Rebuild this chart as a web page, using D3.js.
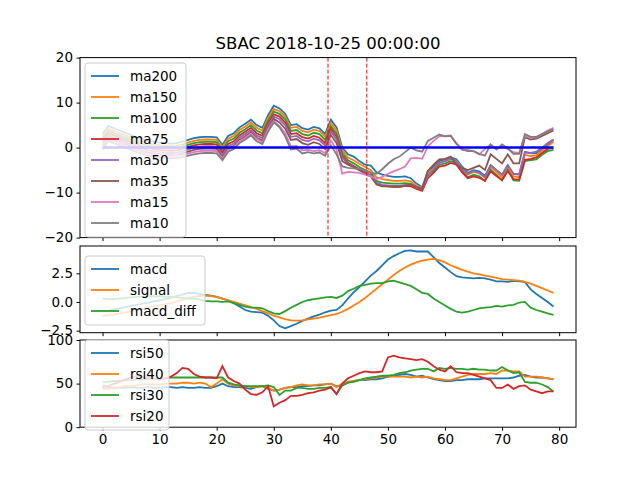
<!DOCTYPE html>
<html>
<head>
<meta charset="utf-8">
<script src="https://cdn.jsdelivr.net/npm/d3@7"></script>
<style>
  body { margin: 0; background: #fff; }
  text { font-family: "DejaVu Sans", sans-serif; }
</style>
</head>
<body>
<div id="chart"></div>
<script>
// Chart data
var title = "SBAC 2018-10-25 00:00:00";
var xTicks = [0, 10, 20, 30, 40, 50, 60, 70, 80];
var maTicks = [-20, -10, 0, 10, 20];
var macdTicks = [-2.5, 0, 2.5];
var rsiTicks = [0, 50, 100];
var markerLines = [39.5, 46.3];

var maNames = ["ma200", "ma150", "ma100", "ma75", "ma50", "ma35", "ma15", "ma10"];
var ma200 = [3,4.8,4.3,3.8,3.3,2.8,2.3,1.9,1.5,1.3, 1.1,1.0,0.9,1.0,1.3,1.7,2.1,2.3,2.4,2.4, 2.3,0.6,2.6,3.2,4.5,5.3,6.2,5.0,4.4,7.2, 9.3,8.7,7.5,5.0,5.2,4.3,4.0,4.6,4.3,3.0, 6.2,4.5,0.0,-1.5,-2.0,-3.0,-3.8,-4.0,-5.5,-6.0, -6.3,-6.5,-6.5,-6.4,-6.8,-8.0,-8.8,-5.2,-4.2,-3.0, -2.7,-2.2,-2.6,-4.2,-5.6,-5.0,-5.3,-6.3,-3.9,-5.0, -6.0,-3.9,-5.9,-6.0,-1.0,-1.3,-1.2,-0.3,0.6,1.7];
var ma150 = [2.5,4.2,3.7,3.2,2.7,2.2,1.7,1.3,0.9,0.7, 0.5,0.4,0.3,0.4,0.7,1.1,1.5,1.7,1.8,1.8, 1.7,0.0,2.0,2.6,3.9,4.7,5.6,4.4,3.8,6.6, 8.6,8.1,6.9,4.4,4.6,3.7,3.4,4.0,3.7,2.4, 5.5,3.8,-0.6,-2.2,-2.8,-3.6,-4.3,-5.0,-6.6,-7.0, -7.2,-7.4,-7.4,-7.3,-7.5,-8.5,-9.0,-5.6,-4.6,-3.3, -3.0,-2.5,-2.9,-4.6,-6.0,-5.4,-5.7,-6.7,-4.3,-5.4, -6.6,-4.3,-6.4,-6.6,-1.6,-1.9,-1.7,-0.7,0.3,1.3];
var ma100 = [2.0,3.7,3.2,2.7,2.2,1.7,1.2,0.8,0.4,0.2, 0.0,-0.1,-0.2,-0.1,0.2,0.6,1.0,1.2,1.3,1.3, 1.2,-0.6,1.4,2.0,3.3,4.1,5.0,3.8,3.2,6.0, 8.0,7.5,6.3,3.7,3.9,3.0,2.7,3.3,3.0,1.7, 4.8,3.1,-1.2,-2.8,-3.5,-4.3,-5.0,-5.6,-7.4,-7.8, -7.9,-8.0,-8.0,-7.9,-8.0,-8.8,-9.3,-6.2,-5.2,-3.8, -3.5,-3.0,-3.4,-5.1,-6.6,-6.0,-6.4,-7.4,-4.9,-6.0, -7.3,-4.9,-7.3,-7.4,-3.0,-2.8,-2.6,-1.6,-0.8,-0.5];
var ma75 = [1.5,3.2,2.7,2.2,1.7,1.2,0.7,0.3,-0.1,-0.3, -0.5,-0.6,-0.7,-0.6,-0.3,0.1,0.5,0.7,0.8,0.8, 0.7,-1.2,0.8,1.4,2.7,3.5,4.4,3.2,2.6,5.4, 7.4,6.9,5.6,3.0,3.2,2.3,2.0,2.6,2.2,1.0, 4.2,2.4,-1.8,-3.4,-4.1,-4.8,-5.5,-6.2,-8.0,-8.5, -8.6,-8.7,-8.7,-8.5,-8.6,-9.2,-9.6,-6.8,-5.6,-4.2, -4.0,-3.4,-3.8,-5.5,-6.8,-6.4,-6.7,-7.4,-5.3,-6.3, -7.2,-5.2,-7.0,-7.1,-2.7,-2.5,-2.2,-1.2,-0.3,0.0];
var ma50 = [1.0,2.7,2.2,1.7,1.2,0.7,0.2,-0.2,-0.6,-0.8, -1.0,-1.1,-1.2,-1.1,-0.8,-0.4,0.0,0.2,0.3,0.3, 0.2,-1.7,0.3,0.9,2.2,3.0,3.9,2.7,2.1,4.9, 6.9,6.3,5.0,2.4,2.6,1.7,1.4,2.0,1.6,0.4, 3.6,1.8,-2.2,-3.6,-4.3,-5.0,-5.6,-6.2,-7.8,-8.3, -8.4,-8.5,-8.5,-8.3,-8.2,-8.7,-9.2,-6.2,-4.7,-3.4, -3.0,-2.5,-3.0,-4.8,-5.8,-5.2,-5.6,-6.6,-3.9,-5.0, -6.0,-3.9,-5.8,-5.9,-1.0,-1.2,-0.9,0.0,1.0,1.8];
var ma35 = [0.5,2.2,1.7,1.2,0.7,0.2,-0.3,-0.7,-1.1,-1.3, -1.5,-1.6,-1.7,-1.6,-1.3,-0.9,-0.5,-0.3,-0.2,-0.2, -0.3,-2.2,-0.2,0.4,1.7,2.5,3.4,2.2,1.6,4.4, 6.4,5.6,4.2,1.7,1.9,1.0,0.6,1.2,0.8,-0.3, 2.8,1.0,-3.0,-3.8,-4.3,-5.0,-5.8,-6.4,-8.2,-8.6, -8.6,-8.7,-8.7,-8.5,-8.2,-8.8,-9.2,-5.2,-3.8,-2.6, -2.5,-2.0,-3.8,-4.5,-5.0,-4.5,-4.0,-5.0,-1.5,-2.5, -3.5,-1.5,-3.5,-3.5,2.3,1.8,2.0,2.6,3.2,3.8];
var ma15 = [0.3,2.0,1.5,1.0,0.5,0.0,-0.5,-0.9,-1.3,-1.5, -1.7,-1.8,-1.9,-1.8,-1.6,-1.3,-1.0,-0.8,-0.7,-0.7, -0.8,-2.4,-0.5,0.1,1.4,2.2,3.1,1.9,1.2,4.1, 5.9,4.8,3.2,0.3,0.4,-0.6,-0.5,-0.8,-0.6,-1.2, 1.6,-0.5,-5.8,-5.4,-5.5,-5.6,-6.0,-6.4,-7.0,-6.5, -5.8,-5.3,-4.8,-4.2,-2.4,-2.3,-2.5,0.3,1.5,2.5, 2.6,2.7,1.0,-0.5,-0.5,-0.8,-1.5,-0.3,0.7,-0.4, 0.3,-0.3,-1.0,-1.2,2.6,2.2,2.3,3.0,3.8,4.4];
var ma10 = [-0.5,1.5,1.0,0.5,0.0,-0.5,-1.0,-1.4,-1.8,-2.0, -2.2,-2.3,-2.4,-2.3,-2.1,-1.8,-1.5,-1.3,-1.2,-1.2, -1.3,-2.8,-0.9,-0.3,1.0,1.8,2.7,1.4,0.8,3.6, 5.6,4.5,2.5,-0.4,-0.2,-1.3,-1.0,-1.3,-1.1,-1.8, 0.5,-1.5,-4.2,-4.5,-4.6,-4.8,-5.0,-5.6,-5.8,-4.8, -3.6,-2.6,-2.0,-1.0,0.0,-0.6,-0.9,1.5,2.2,2.9, 2.5,2.6,0.8,-0.4,-0.8,-0.8,-1.4,-1.8,0.7,-0.4, 0.7,-0.2,-1.4,-1.4,3.0,2.4,2.4,3.0,3.6,4.1];

var macdNames = ["macd", "signal", "macd_diff"];
var macd = [-0.8,-0.75,-0.65,-0.55,-0.45,-0.35,-0.25,-0.15,-0.05,0.05, 0.15,0.25,0.35,0.5,0.65,0.78,0.8,0.7,0.62,0.55, 0.45,0.3,0.15,-0.1,-0.4,-0.7,-0.85,-0.88,-0.93,-1.2, -1.6,-2.1,-2.3,-2.1,-1.9,-1.65,-1.45,-1.25,-1.1,-0.9, -0.75,-0.7,-0.3,0.3,0.85,1.3,1.8,2.3,2.7,3.2, 3.7,4.0,4.25,4.45,4.5,4.4,4.4,4.4,3.9,3.4, 3.0,2.6,2.25,2.15,2.1,2.05,2.1,2.05,1.95,1.8, 1.8,1.75,1.85,1.8,1.75,1.1,0.7,0.35,0.0,-0.4];
var signal = [-1.2,-1.15,-1.1,-1.0,-0.9,-0.8,-0.7,-0.6,-0.5,-0.4, -0.3,-0.2,-0.1,0.05,0.2,0.35,0.45,0.52,0.55,0.52, 0.45,0.3,0.15,0.0,-0.15,-0.3,-0.45,-0.6,-0.8,-1.0, -1.2,-1.35,-1.5,-1.6,-1.63,-1.6,-1.52,-1.45,-1.36,-1.25, -1.15,-1.05,-0.85,-0.6,-0.3,0.0,0.35,0.75,1.15,1.55, 1.95,2.35,2.7,3.0,3.25,3.45,3.6,3.7,3.75,3.65, 3.45,3.2,3.0,2.8,2.64,2.5,2.4,2.3,2.2,2.1, 2.0,1.95,1.9,1.86,1.75,1.6,1.4,1.2,1.0,0.8];
var macdDiff = [0.3,0.25,0.25,0.3,0.35,0.4,0.45,0.45,0.5,0.5, 0.5,0.45,0.45,0.4,0.35,0.3,0.3,0.2,0.1,0.05, 0.05,0.0,0.05,-0.1,-0.25,-0.4,-0.5,-0.5,-0.55,-0.8, -1.0,-1.05,-0.8,-0.5,-0.25,0.0,0.15,0.25,0.32,0.4, 0.45,0.35,0.55,0.95,1.15,1.4,1.5,1.6,1.65,1.65, 1.8,1.85,1.7,1.55,1.4,1.1,0.8,0.7,0.3,0.0, -0.3,-0.6,-0.85,-0.93,-0.85,-0.7,-0.55,-0.5,-0.45,-0.35, -0.4,-0.3,-0.25,-0.05,0.0,-0.5,-0.7,-0.85,-1.0,-1.13];

var rsiNames = ["rsi50", "rsi40", "rsi30", "rsi20"];
var rsi50 = [48,46,45,45,45,46,45,45,46,45, 45,46,46,45,46,45,45,46,45,45, 47,50,47,46,46,45,44,46,47,44, 42,43,45,46,46,47,47,48,48,49, 50,47,48,51,53,54,54,55,55,56, 58,59,60,61,60,58,59,57,55,54, 53,53,54,54,55,55,55,56,56,56, 56,56,57,59,60,58,57,57,56,55];
var rsi40 = [44,44,45,46,47,47,48,49,49,49, 49,50,50,50,51,51,50,51,50,46, 50,55,50,48,47,47,46,46,47,45, 42,43,45,46,48,49,48,48,49,49, 50,46,50,52,53,54,55,56,57,58, 58,58,58,58,57,58,57,58,56,55, 54,54,56,58,60,61,61,61,62,61, 65,65,64,64,58,58,58,57,56,55];
var rsi30 = [52,52,53,53,54,54,55,55,55,56, 55,56,57,57,57,57,57,57,57,57, 57,57,51,49,48,47,47,47,47,48, 46,37,42,42,45,45,44,44,45,45, 46,38,48,51,52,54,56,57,58,59, 59,60,62,63,65,66,67,67,64,68, 67,68,67,67,66,67,66,66,65,65, 69,65,62,63,52,51,51,49,46,41];
var rsi20 = [46,47,50,52,55,57,59,58,56,56, 55,56,58,62,68,67,61,58,57,57, 56,70,57,53,50,43,38,37,40,47, 24,28,31,36,36,37,39,40,42,43, 46,38,50,56,59,62,64,63,63,64, 80,82,80,79,78,77,78,75,70,66, 64,70,63,62,62,60,58,56,54,45, 45,49,44,47,48,43,41,39,41,41];

var colors = ["#1f77b4", "#ff7f0e", "#2ca02c", "#d62728", "#9467bd", "#8c564b", "#e377c2", "#7f7f7f"];

var svgWidth = 640, svgHeight = 480;
var left = 80, right = 576;

var svg = d3.select("#chart").append("svg")
  .attr("width", svgWidth)
  .attr("height", svgHeight);

var xScale = d3.scaleLinear().domain([-3.95, 82.95]).range([left, right]);

// Draw one panel: returns y scale
function panel(top, bottom, domain, ticks, tickFmt, series, names, showX) {
  var y = d3.scaleLinear().domain(domain).range([bottom, top]);
  var g = svg.append("g");

  g.append("g")
    .attr("transform", `translate(0, ${bottom})`)
    .call(d3.axisBottom(xScale).tickValues(xTicks).tickSize(3.5).tickPadding(3.5)
      .tickFormat(showX ? d3.format("d") : ""))
    .call(a => a.select(".domain").remove());

  g.append("g")
    .attr("transform", `translate(${left}, 0)`)
    .call(d3.axisLeft(y).tickValues(ticks).tickSize(3.5).tickPadding(3.5).tickFormat(tickFmt))
    .call(a => a.select(".domain").remove());

  g.selectAll(".tick text").attr("font-size", 13.5).attr("font-family", "DejaVu Sans");

  var clip = "clip" + top;
  svg.append("clipPath").attr("id", clip).append("rect")
    .attr("x", left).attr("y", top).attr("width", right - left).attr("height", bottom - top);

  var line = d3.line().x((d, i) => xScale(i)).y(d => y(d));
  var lines = g.append("g").attr("clip-path", `url(#${clip})`);
  series.forEach(function (s, k) {
    lines.append("path")
      .datum(s)
      .attr("fill", "none")
      .attr("stroke", colors[k])
      .attr("stroke-width", 1.8)
      .attr("d", line);
  });

  g.append("rect")
    .attr("x", left).attr("y", top).attr("width", right - left).attr("height", bottom - top)
    .attr("fill", "none").attr("stroke", "black").attr("stroke-width", 1);

  return { g: g, y: y, lines: lines };
}

function legend(g, x, y, w, names) {
  var lg = g.append("g").attr("transform", `translate(${x}, ${y})`);
  var h = names.length * 21 + 6;
  lg.append("rect")
    .attr("width", w).attr("height", h).attr("rx", 3)
    .attr("fill", "white").attr("fill-opacity", 0.8)
    .attr("stroke", "#cccccc");
  names.forEach(function (n, k) {
    var yy = 13 + k * 21;
    lg.append("line").attr("x1", 6).attr("x2", 34).attr("y1", yy).attr("y2", yy)
      .attr("stroke", colors[k]).attr("stroke-width", 1.8);
    lg.append("text").attr("x", 45).attr("y", yy + 5)
      .attr("font-size", 13.5).text(n);
  });
}

// Moving averages panel
var p1 = panel(57.6, 237.6, [-20, 20], maTicks, d3.format("d"),
  [ma200, ma150, ma100, ma75, ma50, ma35, ma15, ma10], maNames, false);
p1.lines.append("line")
  .attr("x1", xScale(0)).attr("x2", xScale(79))
  .attr("y1", p1.y(0)).attr("y2", p1.y(0))
  .attr("stroke", "blue").attr("stroke-width", 2.5);
markerLines.forEach(function (m) {
  p1.lines.append("line")
    .attr("x1", xScale(m)).attr("x2", xScale(m))
    .attr("y1", 57.6).attr("y2", 237.6)
    .attr("stroke", "red").attr("stroke-width", 1)
    .attr("stroke-dasharray", "4,2");
});
legend(p1.g, 85, 63, 101, maNames);

// MACD panel
var p2 = panel(246, 332.7, [-2.68, 4.88], macdTicks, d3.format(".1f"),
  [macd, signal, macdDiff], macdNames, false);
legend(p2.g, 85, 256, 120, macdNames);

// RSI panel
var p3 = panel(340, 427.2, [0, 100], rsiTicks, d3.format("d"),
  [rsi50, rsi40, rsi30, rsi20], rsiNames, true);
legend(p3.g, 85, 340, 84, rsiNames);

svg.append("text")
  .attr("x", (left + right) / 2).attr("y", 49)
  .attr("text-anchor", "middle")
  .attr("font-size", 16.5)
  .text(title);
</script>
</body>
</html>
